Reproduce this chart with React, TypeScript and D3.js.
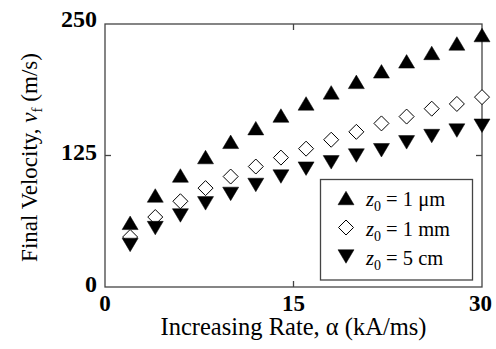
import React from "react";
import * as d3 from "d3";

const alpha = [2, 4, 6, 8, 10, 12, 14, 16, 18, 20, 22, 24, 26, 28, 30];
const v1um = [61, 87, 106, 123.5, 138, 151, 163, 174.5, 185, 195, 205, 214.5, 222.5, 231.5, 239.5];
const v1mm = [47.5, 66.5, 81.5, 94, 105, 114.5, 123, 131.5, 140, 147.5, 155.5, 162, 169.5, 174, 180.5];
const v5cm = [40, 56, 68, 79.5, 88.5, 97, 105, 112.5, 118.5, 125, 130, 137.5, 143.5, 148.7, 153.3];

const xTicks = [0, 15, 30];
const yTicks = [0, 125, 250];
const legendLabels = [
  { value: "1 \u03bcm", shape: "up" },
  { value: "1 mm", shape: "diamond" },
  { value: "5 cm", shape: "down" },
];

const W = 496;
const H = 349;
const L = 105, R = 482, T = 24, B = 287;
const FONT = "'Liberation Serif', 'Times New Roman', serif";
const AXIS = "#444";

function markerPath(shape: string, w = 16, h = 13.5, d = 15) {
  const p = d3.path();
  if (shape === "up") {
    p.moveTo(0, -h / 2); p.lineTo(w / 2, h / 2); p.lineTo(-w / 2, h / 2); p.closePath();
  } else if (shape === "down") {
    p.moveTo(0, h / 2); p.lineTo(w / 2, -h / 2); p.lineTo(-w / 2, -h / 2); p.closePath();
  } else {
    p.moveTo(0, -d / 2); p.lineTo(d / 2, 0); p.lineTo(0, d / 2); p.lineTo(-d / 2, 0); p.closePath();
  }
  return p.toString();
}

function Marker({ shape, x, y }: { shape: string; x: number; y: number }) {
  const isDiamond = shape === "diamond";
  return (
    <path
      d={markerPath(shape)}
      transform={`translate(${x},${y})`}
      fill={isDiamond ? "#fff" : "#000"}
      stroke="#000"
      strokeWidth={isDiamond ? 1 : 0.5}
    />
  );
}

export default function App() {
  const x = d3.scaleLinear().domain([0, 30]).range([L, R]);
  const y = d3.scaleLinear().domain([0, 250]).range([B, T]);

  const series = [
    { shape: "up", values: v1um },
    { shape: "diamond", values: v1mm },
    { shape: "down", values: v5cm },
  ];

  const legX = 320.5, legY = 179.5, legW = 152, legH = 100.5;
  const rowY = [198, 227.5, 256.5];

  return (
    <svg
      width={W}
      height={H}
      style={{ position: "absolute", left: 0, top: 0, background: "#fff" }}
      fontFamily={FONT}
    >
      <rect x={0} y={0} width={W} height={H} fill="#fff" />
      {/* frame */}
      <rect x={L} y={T} width={R - L} height={B - T} fill="none" stroke={AXIS} strokeWidth={1.3} />
      {/* inner ticks */}
      {xTicks.filter((t) => t !== 0 && t !== 30).map((t) => (
        <g key={"xt" + t}>
          <line x1={x(t)} x2={x(t)} y1={B} y2={B - 6} stroke={AXIS} strokeWidth={1.3} />
          <line x1={x(t)} x2={x(t)} y1={T} y2={T + 6} stroke={AXIS} strokeWidth={1.3} />
        </g>
      ))}
      {yTicks.filter((t) => t !== 0 && t !== 250).map((t) => (
        <g key={"yt" + t}>
          <line x1={L} x2={L + 6} y1={y(t)} y2={y(t)} stroke={AXIS} strokeWidth={1.3} />
          <line x1={R} x2={R - 6} y1={y(t)} y2={y(t)} stroke={AXIS} strokeWidth={1.3} />
        </g>
      ))}
      {/* tick labels */}
      {yTicks.map((t) => (
        <text key={"yl" + t} x={L - 8} y={y(t) + (t === 250 ? 2.7 : 4.7)} textAnchor="end"
          fontSize={24} fontWeight="bold" fill="#000">{t}</text>
      ))}
      {xTicks.map((t) => (
        <text key={"xl" + t} x={x(t) - (t === 30 ? 1.5 : 0)} y={311} textAnchor="middle"
          fontSize={23} fontWeight="bold" fill="#000">{t}</text>
      ))}
      {/* axis titles */}
      <text x={(L + R) / 2} y={335} textAnchor="middle" fontSize={24.5} fill="#000">
        Increasing Rate, {"\u03b1"} (kA/ms)
      </text>
      <text transform={`translate(37,${(T + B) / 2 + 2}) rotate(-90)`} textAnchor="middle" fontSize={23} fill="#000">
        Final Velocity, <tspan fontStyle="italic">v</tspan>
        <tspan fontSize={15} dy={5}>f</tspan>
        <tspan dy={-5}> (m/s)</tspan>
      </text>
      {/* data */}
      {series.map((s) => (
        <g key={s.shape}>
          {s.values.map((v, i) => (
            <Marker key={i} shape={s.shape} x={x(alpha[i])} y={y(v)} />
          ))}
        </g>
      ))}
      {/* legend */}
      <rect x={legX} y={legY} width={legW} height={legH} fill="#fff" stroke={AXIS} strokeWidth={1.3} />
      {legendLabels.map((d, i) => (
        <g key={d.value}>
          <Marker shape={d.shape} x={346} y={rowY[i]} />
          <text x={366} y={rowY[i] + 8} fontSize={20.5} fill="#000">
            <tspan fontStyle="italic">z</tspan>
            <tspan fontSize={14} dy={5}>0</tspan>
            <tspan dy={-5}> = {d.value}</tspan>
          </text>
        </g>
      ))}
    </svg>
  );
}
